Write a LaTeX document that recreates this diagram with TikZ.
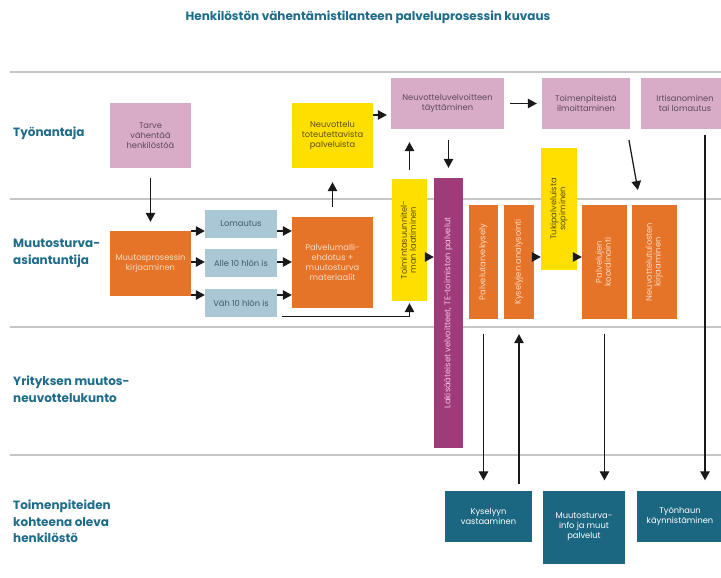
\documentclass[tikz,border=0pt]{standalone}
\usepackage{fontspec}
\setmainfont{Poppins}
\usepackage{graphicx}
\usetikzlibrary{arrows.meta,calc}
\definecolor{cpink}{HTML}{D8ABC7}
\definecolor{cpinktxt}{HTML}{5E4A58}
\definecolor{cyellow}{HTML}{FFDF00}
\definecolor{cyellowtxt}{HTML}{5C5000}
\definecolor{corange}{HTML}{E57328}
\definecolor{corangetxt}{HTML}{FCDCC4}
\definecolor{cblue}{HTML}{A9C7D5}
\definecolor{cbluetxt}{HTML}{3E5A66}
\definecolor{cpurple}{HTML}{9F3B78}
\definecolor{cpurpletxt}{HTML}{F4C4E0}
\definecolor{cteal}{HTML}{1B6680}
\definecolor{clabel}{HTML}{1E6C8A}
\renewcommand\arraystretch{0.85}
\newcommand\vtext[1]{\rotatebox{90}{\begin{tabular}{@{}c@{}}#1\end{tabular}}}
\begin{document}
\begin{tikzpicture}[x=1pt,y=-1pt,
  box/.style={draw=none, inner sep=1pt, align=center, font=\fontsize{8.3}{10}\selectfont},
  sz/.style 2 args={minimum width=#1pt, minimum height=#2pt},
  pinkbox/.style={box, fill=cpink, text=cpinktxt},
  yellowbox/.style={box, fill=cyellow, text=cyellowtxt},
  orangebox/.style={box, fill=corange, text=corangetxt},
  bluebox/.style={box, fill=cblue, text=cbluetxt},
  purplebox/.style={box, fill=cpurple, text=cpurpletxt},
  tealbox/.style={box, fill=cteal, text=white},
  arr/.style={draw=black!90, line width=1.25pt, -{Triangle[length=9pt,width=9.5pt]}},
  lane/.style={draw=gray!45, line width=1.6pt},
  lab/.style={font=\fontsize{12}{16.5}\selectfont\bfseries, text=clabel, align=left, anchor=west, inner sep=0pt}
]
\useasboundingbox[fill=white] (0,0) rectangle (721,578);

% title
\node[font=\fontsize{12}{14}\selectfont\bfseries, text=clabel] (title) at (368,17) {Henkilöstön vähentämistilanteen palveluprosessin kuvaus};

% lanes
\draw[lane] (10,72) -- (721,72);
\draw[lane] (10,199) -- (721,199);
\draw[lane] (10,327) -- (721,327);
\draw[lane] (10,455) -- (721,455);

% lane labels
\node[lab] (l1) at (13,133) {Työnantaja};
\node[lab] (l2) at (13,253.5) {Muutosturva-\\asiantuntija};
\node[lab] (l3) at (13,389) {Yrityksen muutos-\\neuvottelukunto};
\node[lab] (l4) at (13,521.5) {Toimenpiteiden\\kohteena oleva\\henkilöstö};

% Työnantaja lane
\node[pinkbox, sz={81}{65}] (tarve) at (150.5,135.5) {Tarve\\vähentää\\henkilöstöä};
\node[yellowbox, sz={81}{65}] (neuv) at (332.5,135.5) {Neuvottelu\\toteutettavista\\palveluista};
\node[pinkbox, sz={113}{51}] (nvel) at (447.5,103.5) {Neuvotteluvelvoitteen\\täyttäminen};
\node[pinkbox, sz={88}{51}] (toim) at (586,103.5) {Toimenpiteistä\\ilmoittaminen};
\node[pinkbox, sz={88}{51}] (irti) at (685,103.5) {Irtisanominen\\tai lomautus};

% Muutosturva-asiantuntija lane
\node[orangebox, sz={81}{65}] (muut) at (150.5,263.5) {Muutosprosessin\\kirjaaminen};
\node[bluebox, sz={72}{28}] (lom) at (241,224) {Lomautus};
\node[bluebox, sz={72}{28}] (alle) at (241,263) {Alle 10 hlön is};
\node[bluebox, sz={72}{28}] (vah) at (241,303) {Väh 10 hlön is};
\node[orangebox, sz={81}{91}] (palv) at (332.5,262.5) {Palvelumalli-\\ehdotus +\\muutosturva\\materiaalit};
\node[yellowbox, sz={35}{122}] (tsuun) at (409.5,240) {\vtext{Toimintasuunnitel-\\man laatiminen}};
\node[purplebox, sz={29}{270}] (laki) at (448.5,313) {\vtext{Lakisääteiset velvoitteet, TE-toimiston palvelut}};
\node[orangebox, sz={29}{114}] (ptk) at (483.5,262) {\vtext{Palvelutarvekysely}};
\node[orangebox, sz={30}{114}] (kan) at (519,262) {\vtext{Kyselyjen analysointi}};
\node[yellowbox, sz={36}{122}] (tuki) at (559,209) {\vtext{Tukipalveluista\\sopiminen}};
\node[orangebox, sz={45}{114}] (pkoord) at (604.5,262) {\vtext{Palvelujen\\koordinointi}};
\node[orangebox, sz={45}{114}] (nkir) at (654.5,262) {\vtext{Neuvottelutulosten\\kirjaaminen}};

% Henkilöstö lane
\node[tealbox, sz={87}{51}] (kys) at (488.5,516) {Kyselyyn\\vastaaminen};
\node[tealbox, sz={82}{73}] (mti) at (584,527) {Muutosturva-\\info ja muut\\palvelut};
\node[tealbox, sz={86}{51}] (tyon) at (680,516) {Työnhaun\\käynnistäminen};

% connectors
\draw[arr, shorten <=10pt, shorten >=9pt] (tarve.south) -- (muut.north);

\coordinate (c1) at ([yshift=-7pt]lom.west);
\coordinate (c2) at ([yshift=1pt]alle.west);
\coordinate (c3) at ([yshift=8pt]vah.west);
\draw[arr] (muut.east |- c1) -- (c1);
\draw[arr] (muut.east |- c2) -- (c2);
\draw[arr] (muut.east |- c3) -- (c3);
\draw[arr] (lom.east |- c1) -- (palv.west |- c1);
\draw[arr] (alle.east |- c2) -- (palv.west |- c2);
\draw[arr] (vah.east |- c3) -- (palv.west |- c3);

\draw[arr, shorten <=10pt, shorten >=14pt] (palv.north) -- (neuv.south);

\coordinate (n1) at ([yshift=-11.5pt]nvel.west);
\draw[arr, shorten >=4pt] (neuv.east |- n1) -- (n1);
\draw[arr, shorten <=6pt, shorten >=5pt] (nvel.east) -- (toim.west);

\draw[arr, shorten <=9pt, shorten >=13pt] (tsuun.north) -- (tsuun.north |- nvel.south);
\draw[arr, shorten <=11pt, shorten >=10pt] (nvel.south -| laki.north) -- (laki.north);

\coordinate (t1) at ([xshift=41pt]toim.south);
\coordinate (t2) at ([xshift=-14pt]nkir.north);
\draw[arr, shorten <=11pt, shorten >=15pt] (t1) -- (t2);

\coordinate (i1) at ([xshift=20pt]irti.south);
\draw[arr, shorten <=6pt, shorten >=10pt] (i1) -- (i1 |- tyon.north);

\draw[arr, shorten >=2pt] ([xshift=5pt,yshift=1pt]vah.south east) -| (tsuun.south);

\coordinate (s1) at ([yshift=-17pt]tsuun.east);
\draw[arr] ([xshift=-2pt]s1) -- (laki.west |- s1);
\coordinate (k1) at ([yshift=5pt]kan.east);
\draw[arr] ([xshift=-2pt]k1) -- (tuki.west |- k1);
\draw[arr] ([xshift=-2pt]tuki.east |- k1) -- (pkoord.west |- k1);

\draw[arr, shorten <=15pt, shorten >=10pt] (ptk.south) -- (ptk.south |- kys.north);
\draw[arr, shorten <=6pt, shorten >=15pt] (kan.south |- kys.north) -- (kan.south);
\draw[arr, shorten <=15pt, shorten >=10pt] (pkoord.south) -- (pkoord.south |- mti.north);
\end{tikzpicture}
\end{document}
